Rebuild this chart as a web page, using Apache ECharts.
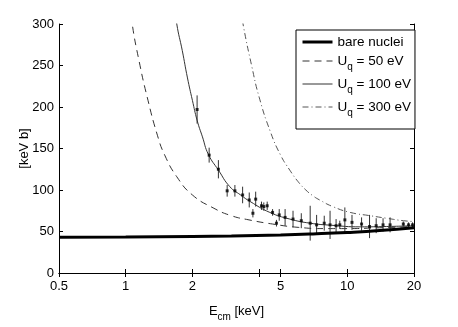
<!DOCTYPE html>
<html>
<head>
<meta charset="utf-8">
<script src="https://cdn.jsdelivr.net/npm/echarts@6/dist/echarts.min.js"></script>
<style>
  html, body { margin: 0; padding: 0; background: #fff; }
  #chart { width: 458px; height: 327px; }
</style>
</head>
<body>
<div id="chart"></div>
<script>
// tick labels
const xTicks = [0.5, 1, 2, 5, 10, 20];
const xTickMarks = [0.5, 1, 2, 4, 5, 10, 20];
const yTicks = [0, 50, 100, 150, 200, 250, 300];

// curves: [E_cm keV, S keV b]
const bareNuclei = [[0.5, 43.2], [1, 43.5], [2, 44.1], [3, 44.7], [5, 45.9], [7, 47.1], [10, 48.8], [14, 51.1], [20, 54.6]];
const uq50 = [[1.03, 340], [1.07, 300], [1.15, 255], [1.25, 212], [1.39, 166], [1.5, 142], [1.7, 116], [2.0, 94], [2.5, 78], [3.0, 69], [3.6, 64], [4.6, 59], [6, 55], [8, 53.5], [10, 53.5], [14, 54.5], [20, 56]];
const uq100 = [[1.65, 330], [1.7, 300], [1.8, 268], [1.9, 235], [2.0, 208], [2.1, 184], [2.22, 164], [2.36, 143], [2.62, 124], [2.95, 104], [3.3, 94], [3.65, 86], [4.47, 73], [5.5, 65], [6.8, 60], [8.5, 57.5], [11.4, 55.6], [15, 56], [20, 57]];
const uq300 = [[3.3, 320], [3.4, 297], [3.7, 250], [4.0, 212], [4.5, 170], [5.0, 142], [5.5, 124], [6.0, 110], [6.5, 100], [7.0, 93], [7.5, 88], [8.6, 80], [10.3, 73], [12.7, 69], [15, 66], [17.9, 63], [20, 62]];

// measured points: energy, value, error
const measE = [2.10, 2.38, 2.62, 2.87, 3.11, 3.37, 3.61, 3.75, 3.86, 4.10, 4.20, 4.35, 4.60, 4.79, 4.93, 5.24, 5.69, 6.20, 6.80, 7.27, 7.87, 8.36, 8.90, 9.25, 9.75, 10.5, 11.6, 12.6, 13.5, 14.5, 15.6, 17.9, 18.9, 19.7];
const measS = [197, 142, 125, 99, 99, 94, 88, 72, 89, 81, 80, 81, 73, 60, 70, 67, 65, 63, 60, 58, 60, 58, 57, 58, 64, 61, 59, 56, 57, 58, 58, 59, 58, 58];
const measErr = [17, 9, 11, 7, 7, 10, 9, 5, 9, 5, 5, 5, 4, 4, 7, 10, 10, 9, 21, 12, 9, 17, 8, 5, 15, 9, 8, 14, 9, 8, 9, 3, 3, 3];

const font = 'Liberation Sans, Arial, sans-serif';
const chart = echarts.init(document.getElementById('chart'));

const points = measE.map((e, i) => [e, measS[i], measErr[i]]);

const baseX = {
  type: 'log', logBase: 10, min: 0.5, max: 20,
  splitLine: { show: false },
  axisLine: { show: true, lineStyle: { color: '#000', width: 1 } },
  axisTick: { show: true, inside: true, length: 4, customValues: xTickMarks, lineStyle: { color: '#000' } },
  minorTick: { show: false }
};
const baseY = {
  type: 'value', min: 0, max: 300, interval: 50,
  splitLine: { show: false },
  axisLine: { show: true, lineStyle: { color: '#000', width: 1 } },
  axisTick: { show: true, inside: true, length: 4, lineStyle: { color: '#000' } }
};

const option = {
  animation: false,
  backgroundColor: '#fff',
  grid: { left: 59, right: 44, top: 24, bottom: 44 },
  xAxis: [
    Object.assign({}, baseX, {
      position: 'bottom',
      axisLabel: { customValues: xTicks, color: '#000', fontSize: 13, fontFamily: font, margin: 7, formatter: v => String(v) },
      name: '{t|E}{s|cm}{t| [keV]}',
      nameLocation: 'middle', nameGap: 27, nameMoveOverlap: false,
      nameTextStyle: {
        rich: {
          t: { fontSize: 13, fontFamily: font, color: '#000', lineHeight: 16 },
          s: { fontSize: 10, fontFamily: font, color: '#000', padding: [12, 0, 0, 0] }
        }
      }
    }),
    Object.assign({}, baseX, { position: 'top', axisLabel: { show: false } })
  ],
  yAxis: [
    Object.assign({}, baseY, {
      position: 'left',
      axisLabel: { color: '#000', fontSize: 13, fontFamily: font, margin: 5 },
      name: '[keV b]', nameLocation: 'middle', nameGap: 28, nameRotate: 90, nameMoveOverlap: false,
      nameTextStyle: { color: '#000', fontSize: 13, fontFamily: font }
    }),
    Object.assign({}, baseY, { position: 'right', axisLabel: { show: false } })
  ],
  legend: {
    orient: 'vertical',
    left: 296, top: 30,
    data: [
      { name: 'bare nuclei', lineStyle: { width: 3 } },
      { name: 'Uq = 50 eV', lineStyle: { width: 1 } },
      { name: 'Uq = 100 eV', lineStyle: { width: 1 } },
      { name: 'Uq = 300 eV', lineStyle: { width: 1 } }
    ],
    backgroundColor: '#fff',
    borderColor: '#000', borderWidth: 1, borderRadius: 0,
    padding: [5, 4, 11, 5],
    itemWidth: 30, itemHeight: 12, itemGap: 5,
    itemStyle: { opacity: 0 },
    formatter: name => name.startsWith('Uq')
      ? '{t|U}{s|q}{t|' + name.slice(2) + '}'
      : '{t|' + name + '}',
    textStyle: {
      rich: {
        t: { fontSize: 13.5, fontFamily: font, color: '#000', lineHeight: 18 },
        s: { fontSize: 10, fontFamily: font, color: '#000', padding: [12, 0, 0, 0] }
      }
    }
  },
  series: [
    {
      name: 'bare nuclei', type: 'line', data: bareNuclei, smooth: true,
      symbol: 'none', clip: true, z: 5,
      lineStyle: { color: '#000', width: 3 }, itemStyle: { color: '#000' }
    },
    {
      name: 'Uq = 50 eV', type: 'line', data: uq50, smooth: true,
      symbol: 'none', clip: true,
      lineStyle: { color: '#333', width: 1, type: [7, 5] }, itemStyle: { color: '#333' }
    },
    {
      name: 'Uq = 100 eV', type: 'line', data: uq100, smooth: true,
      symbol: 'none', clip: true,
      lineStyle: { color: '#333', width: 1 }, itemStyle: { color: '#333' }
    },
    {
      name: 'Uq = 300 eV', type: 'line', data: uq300, smooth: true,
      symbol: 'none', clip: true,
      lineStyle: { color: '#555', width: 1, type: [6, 3, 1, 3] }, itemStyle: { color: '#555' }
    },
    {
      name: 'errors', type: 'custom', data: points, clip: true, z: 4,
      encode: { x: 0, y: 1 },
      renderItem: (params, api) => {
        const x = api.value(0), y = api.value(1), e = api.value(2);
        const hi = api.coord([x, y + e]);
        const lo = api.coord([x, y - e]);
        return {
          type: 'line',
          shape: { x1: hi[0], y1: hi[1], x2: lo[0], y2: lo[1] },
          style: { stroke: '#333', lineWidth: 1 }
        };
      }
    },
    {
      name: 'points', type: 'scatter', data: points, z: 6,
      symbol: 'rect', symbolSize: 3, itemStyle: { color: '#000' }
    }
  ]
};

chart.setOption(option);
</script>
</body>
</html>
